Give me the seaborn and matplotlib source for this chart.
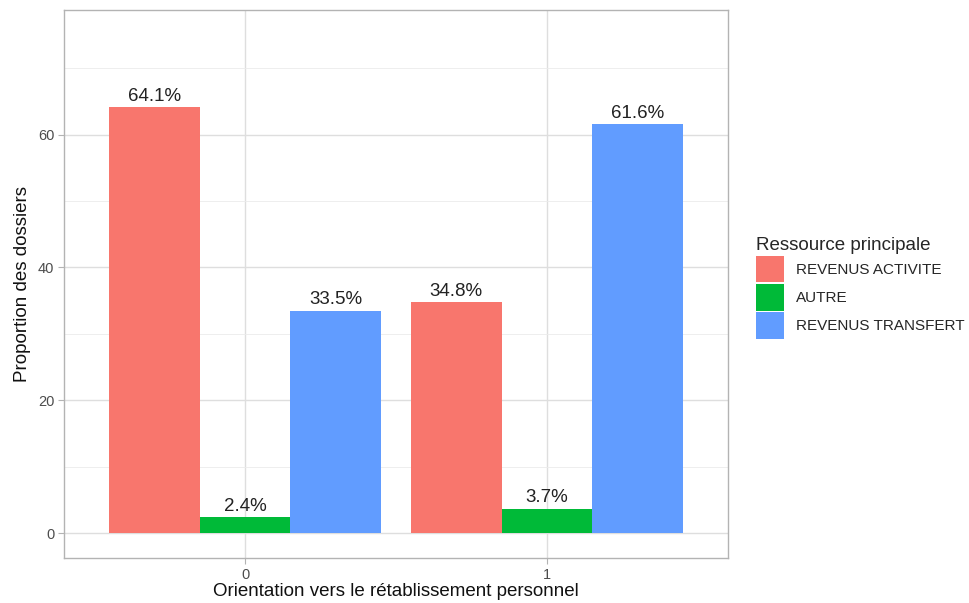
import matplotlib
matplotlib.use("Agg")
import matplotlib.pyplot as plt
from matplotlib.patches import Patch
import pandas as pd
import seaborn as sns

# donnees
orientation = ["0", "0", "0", "1", "1", "1"]
ressource = ["REVENUS ACTIVITE", "AUTRE", "REVENUS TRANSFERT"] * 2
proportion = [64.1, 2.4, 33.5, 34.8, 3.7, 61.6]
ordre_ressource = ["REVENUS ACTIVITE", "AUTRE", "REVENUS TRANSFERT"]
couleurs = ["#F8766D", "#00BA38", "#619CFF"]
y_ticks = [0, 20, 40, 60]

df = pd.DataFrame({"orientation": orientation, "ressource": ressource, "proportion": proportion})

sns.set_theme(style="white")
plt.rcParams["font.family"] = ["Liberation Sans", "DejaVu Sans"]

fig = plt.figure(figsize=(9.7, 6.03), dpi=100)
ax = fig.add_axes([0.066, 0.0746, 0.6845, 0.9088])

sns.barplot(data=df, x="orientation", y="proportion", hue="ressource",
            hue_order=ordre_ressource, palette=couleurs, width=0.9, gap=0,
            saturation=1, ax=ax, legend=False, zorder=2, linewidth=0, edgecolor="none")

for cont in ax.containers:
    ax.bar_label(cont, fmt="%.1f%%", padding=1.5, fontsize=13.5, color="#222222")

ax.set_xlim(-0.6, 1.6)
ax.set_ylim(-3.75, 78.75)
ax.set_yticks(y_ticks)
ax.set_yticks([10, 30, 50, 70], minor=True)

# grille facon theme_light
ax.grid(True, which="major", color="#DEDEDE", linewidth=1.0, zorder=0)
ax.grid(True, which="minor", axis="y", color="#EBEBEB", linewidth=0.6, zorder=0)
ax.set_axisbelow(True)
for sp in ax.spines.values():
    sp.set_color("#B3B3B3")
    sp.set_linewidth(1.0)

ax.tick_params(axis="both", which="major", length=4, color="#B3B3B3", width=0.8,
               labelsize=10.5, labelcolor="#4D4D4D", pad=3, left=True, bottom=True)
ax.tick_params(axis="both", which="minor", length=0)

ax.set_xlabel("Orientation vers le rétablissement personnel", fontsize=13.5, color="#111111", labelpad=1)
ax.set_ylabel("Proportion des dossiers", fontsize=13.5, color="#111111", labelpad=5)

handles = [Patch(facecolor=c, edgecolor="none") for c in couleurs]
leg = fig.legend(handles, ordre_ressource, title="Ressource principale",
                 loc="upper left", bbox_to_anchor=(0.771, 0.62), frameon=False,
                 fontsize=11, title_fontsize=13.5, handlelength=1.85, handleheight=2.3,
                 handletextpad=0.8, labelspacing=0.12, borderpad=0)
leg._legend_box.align = "left"

fig.savefig("out.png", dpi=100)
